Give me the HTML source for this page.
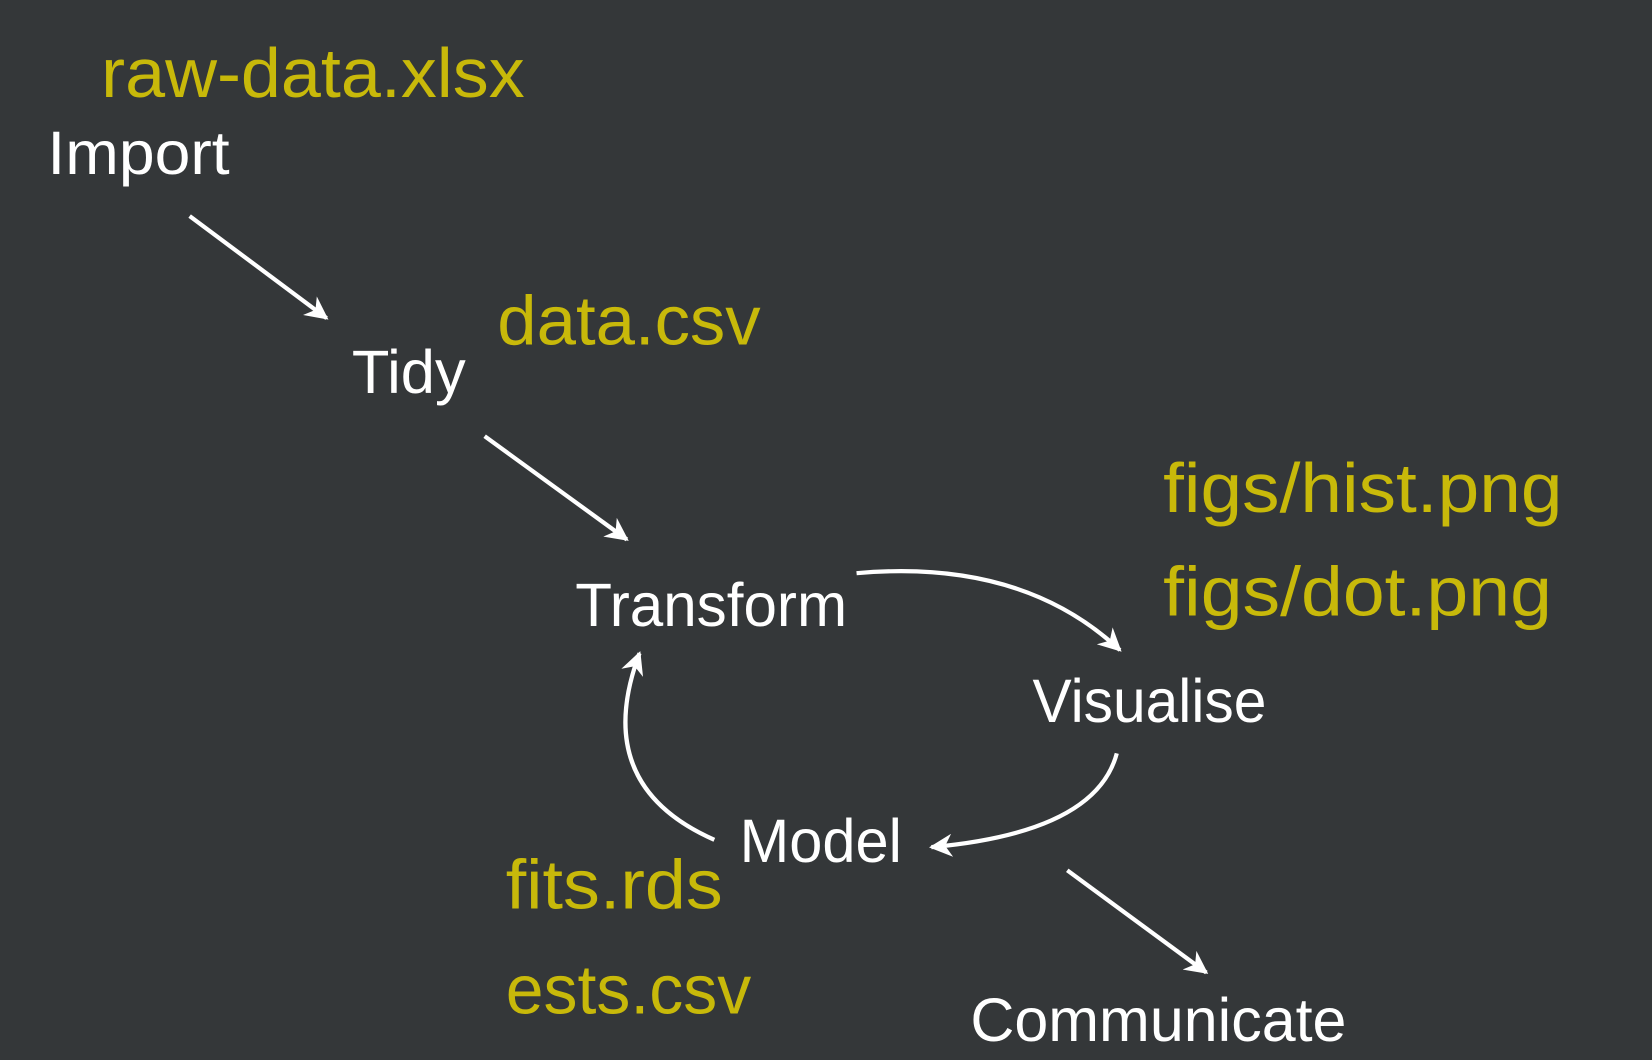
<!DOCTYPE html>
<html><head><meta charset="utf-8"><style>
html,body{margin:0;padding:0;background:#343739;}
svg{display:block;}
text{font-family:"Liberation Sans",sans-serif;}
.w{fill:#ffffff;font-size:58px;}
.y{fill:#c8b90a;font-size:66px;}
</style></head><body>
<svg width="1652" height="1060" viewBox="0 0 1568 1006" preserveAspectRatio="none" xmlns="http://www.w3.org/2000/svg">
<defs><marker id="a" viewBox="0 0 10 10" refX="9" refY="5" markerWidth="7" markerHeight="7" markerUnits="userSpaceOnUse" orient="auto"><path d="M0,0 L10,5 L0,10 z" fill="#fff"/></marker>
<marker id="b" viewBox="0 0 10 10" refX="9" refY="5" markerWidth="22" markerHeight="22" markerUnits="userSpaceOnUse" orient="auto"><path d="M0,0 L10,5 L0,10 L3,5 z" fill="#fff"/></marker></defs>
<rect width="1568" height="1006" fill="#343739"/>
<g stroke="#fff" stroke-width="4" fill="none" marker-end="url(#b)">
<path d="M180,205 L310,302"/>
<path d="M460,414 L595,512"/>
<path d="M813,544 Q970,530 1063,617"/>
<path d="M1060,715 Q1040,790 884,804"/>
<path d="M678,797 Q560,745 607,620"/>
<path d="M1013,826 L1145,923"/>
</g>
<text class="y" x="96" y="92" textLength="402" lengthAdjust="spacingAndGlyphs">raw-data.xlsx</text>
<text class="w" x="45" y="165" textLength="173" lengthAdjust="spacingAndGlyphs">Import</text>
<text class="w" x="334" y="373" textLength="108" lengthAdjust="spacingAndGlyphs">Tidy</text>
<text class="y" x="472" y="327" textLength="250" lengthAdjust="spacingAndGlyphs">data.csv</text>
<text class="w" x="546" y="594" textLength="258" lengthAdjust="spacingAndGlyphs">Transform</text>
<text class="y" x="1104" y="486" textLength="379" lengthAdjust="spacingAndGlyphs">figs/hist.png</text>
<text class="y" x="1104" y="584" textLength="369" lengthAdjust="spacingAndGlyphs">figs/dot.png</text>
<text class="w" x="980" y="685" textLength="222" lengthAdjust="spacingAndGlyphs">Visualise</text>
<text class="w" x="702" y="818" textLength="154" lengthAdjust="spacingAndGlyphs">Model</text>
<text class="y" x="480" y="862" textLength="206" lengthAdjust="spacingAndGlyphs">fits.rds</text>
<text class="y" x="480" y="962" textLength="233" lengthAdjust="spacingAndGlyphs">ests.csv</text>
<text class="w" x="921" y="988" textLength="357" lengthAdjust="spacingAndGlyphs">Communicate</text>
</svg>
</body></html>
